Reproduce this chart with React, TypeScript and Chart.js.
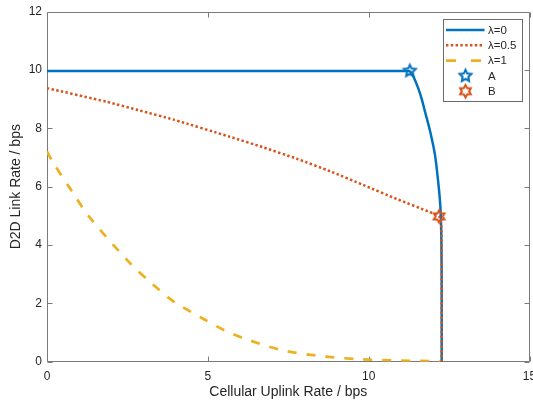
import React, { useEffect, useRef } from 'react';
import { Chart, registerables } from 'chart.js';

Chart.register(...registerables);

// ---- data ----
const lambda0X = [0, 3, 6, 9, 11.28, 11.39, 11.54, 11.65, 11.75, 11.91, 12.06, 12.16, 12.23, 12.26, 12.27, 12.27];
const lambda0Y = [9.97, 9.97, 9.97, 9.97, 9.97, 9.78, 9.38, 9.0, 8.58, 7.9, 7.1, 6.18, 5.3, 4.2, 2.5, 0];
const lambda0CornerIndex = 4; // point A sits on the corner of the λ=0 curve

const lambda05X = [0, 1.86, 2.89, 3.93, 5.69, 6.72, 7.76, 8.8, 9.83, 10.87, 11.9, 12.19, 12.26, 12.27];
const lambda05Y = [9.38, 8.91, 8.61, 8.3, 7.71, 7.35, 6.96, 6.53, 6.06, 5.58, 5.13, 4.98, 4.6, 0];

const lambda1X = [0, 0.2, 0.77, 1.34, 2.58, 3.25, 3.93, 4.91, 5.53, 6.1, 7.24, 8.38, 9.62, 11.0, 12.0, 12.22];
const lambda1Y = [7.21, 6.81, 5.85, 4.93, 3.38, 2.69, 2.07, 1.44, 1.07, 0.81, 0.41, 0.21, 0.09, 0.04, 0.02, 0.01];

const pointAX = [11.28];
const pointAY = [9.97];
const pointBX = [12.19];
const pointBY = [4.98];

const seriesLabels = ['\u03bb=0', '\u03bb=0.5', '\u03bb=1', 'A', 'B'];
const xTicks = [0, 5, 10, 15];
const yTicks = [0, 2, 4, 6, 8, 10, 12];

const xTitle = 'Cellular Uplink Rate / bps';
const yTitle = 'D2D Link Rate / bps';

// ---- styles ----
const BLUE = '#0072BD';
const ORANGE = '#D95319';
const YELLOW = '#EDB120';
const AXIS = '#7a7a7a';
const TEXT = '#262626';
const FONT = '"Liberation Sans", Arial, Helvetica, sans-serif';

function toPoints(xs: number[], ys: number[]) {
  return xs.map((x, i) => ({ x, y: ys[i] }));
}

function makeStar(n: number, R: number, r: number, color: string, lw: number): HTMLCanvasElement {
  const size = Math.ceil(2 * R + lw * 2 + 4);
  const c = document.createElement('canvas');
  c.width = size;
  c.height = size;
  const ctx = c.getContext('2d')!;
  ctx.strokeStyle = color;
  ctx.lineWidth = lw;
  ctx.lineJoin = 'miter';
  ctx.beginPath();
  for (let i = 0; i < n * 2; i++) {
    const rad = i % 2 === 0 ? R : r;
    const ang = -Math.PI / 2 + (i * Math.PI) / n;
    const px = size / 2 + rad * Math.cos(ang);
    const py = size / 2 + rad * Math.sin(ang);
    if (i === 0) ctx.moveTo(px, py);
    else ctx.lineTo(px, py);
  }
  ctx.closePath();
  ctx.stroke();
  return c;
}

export default function App() {
  const ref = useRef<HTMLCanvasElement | null>(null);

  useEffect(() => {
    if (!ref.current) return;
    const starA = makeStar(5, 6.2, 3.0, BLUE, 2);
    const hexB = makeStar(6, 6.2, 3.6, ORANGE, 2);

    const axesBox = {
      id: 'axesBox',
      beforeDatasetsDraw(chart: any) {
        const { ctx, chartArea: a, scales } = chart;
        ctx.save();
        ctx.strokeStyle = AXIS;
        ctx.lineWidth = 1;
        const L = Math.round(a.left) + 0.5;
        const R = Math.round(a.right) - 0.5;
        const T = Math.round(a.top) + 0.5;
        const B = Math.round(a.bottom) - 0.5;
        ctx.beginPath();
        ctx.rect(L, T, R - L, B - T);
        ctx.stroke();
        const tl = 5;
        ctx.beginPath();
        xTicks.forEach((v) => {
          const px = Math.round(scales.x.getPixelForValue(v)) + 0.5;
          ctx.moveTo(px, B);
          ctx.lineTo(px, B - tl);
          ctx.moveTo(px, T);
          ctx.lineTo(px, T + tl);
        });
        yTicks.forEach((v) => {
          const py = Math.round(scales.y.getPixelForValue(v)) + 0.5;
          ctx.moveTo(L, py);
          ctx.lineTo(L + tl, py);
          ctx.moveTo(R, py);
          ctx.lineTo(R - tl, py);
        });
        ctx.stroke();
        ctx.restore();
      },
    };

    const legend = {
      id: 'matlabLegend',
      afterDraw(chart: any) {
        const { ctx, chartArea: a } = chart;
        const boxRight = Math.round(a.right - 7.5) + 0.5;
        const boxLeft = boxRight - 79;
        const boxTop = Math.round(a.top + 7.3) + 0.5;
        const boxBottom = boxTop + 82;
        ctx.save();
        ctx.fillStyle = '#ffffff';
        ctx.fillRect(boxLeft, boxTop, boxRight - boxLeft, boxBottom - boxTop);
        ctx.strokeStyle = '#6a6a6a';
        ctx.lineWidth = 1;
        ctx.strokeRect(boxLeft, boxTop, boxRight - boxLeft, boxBottom - boxTop);
        const x1 = boxLeft + 2.5;
        const x2 = boxLeft + 41;
        const mx = boxLeft + 22;
        const tx = boxLeft + 44.5;
        const rowY = (i: number) => boxTop + 10.5 + i * 15.3;
        const lines = [
          { color: BLUE, dash: [] as number[], w: 2.5 },
          { color: ORANGE, dash: [2.4, 2.4], w: 2.5 },
          { color: YELLOW, dash: [10, 15], w: 2.7 },
        ];
        lines.forEach((l, i) => {
          const y = rowY(i);
          ctx.beginPath();
          ctx.strokeStyle = l.color;
          ctx.lineWidth = l.w;
          ctx.setLineDash(l.dash);
          ctx.lineCap = 'butt';
          ctx.moveTo(x1, y);
          ctx.lineTo(x2, y);
          ctx.stroke();
        });
        ctx.setLineDash([]);
        const imgs = [starA, hexB];
        imgs.forEach((img, k) => {
          const y = rowY(3 + k);
          ctx.drawImage(img, mx - img.width / 2, y - img.height / 2);
        });
        ctx.fillStyle = TEXT;
        ctx.font = `11.5px ${FONT}`;
        ctx.textBaseline = 'middle';
        ctx.textAlign = 'left';
        seriesLabels.forEach((t, i) => {
          ctx.fillText(t, tx, rowY(i) + 0.5);
        });
        ctx.restore();
      },
    };

    const allBlue = toPoints(lambda0X, lambda0Y);

    const chart = new Chart(ref.current, {
      type: 'line',
      data: {
        datasets: [
          {
            label: seriesLabels[0],
            data: allBlue.slice(0, lambda0CornerIndex + 1),
            borderColor: BLUE,
            borderWidth: 2.5,
            pointRadius: 0,
            tension: 0,
            fill: false,
            order: 6,
          },
          {
            label: seriesLabels[0] + ' (curve)',
            data: allBlue.slice(lambda0CornerIndex),
            borderColor: BLUE,
            borderWidth: 2.5,
            pointRadius: 0,
            tension: 0.3,
            fill: false,
            order: 5,
          },
          {
            label: seriesLabels[1],
            data: toPoints(lambda05X, lambda05Y),
            borderColor: ORANGE,
            borderWidth: 2.5,
            borderDash: [2.4, 2.4],
            pointRadius: 0,
            tension: 0.2,
            fill: false,
            order: 4,
          },
          {
            label: seriesLabels[2],
            data: toPoints(lambda1X, lambda1Y),
            borderColor: YELLOW,
            borderWidth: 2.7,
            borderDash: [9, 10],
            pointRadius: 0,
            tension: 0.3,
            fill: false,
            order: 3,
          },
          {
            label: seriesLabels[3],
            data: toPoints(pointAX, pointAY),
            showLine: false,
            pointStyle: starA as any,
            pointRadius: 7,
            borderColor: BLUE,
            order: 2,
            clip: false as any,
          },
          {
            label: seriesLabels[4],
            data: toPoints(pointBX, pointBY),
            showLine: false,
            pointStyle: hexB as any,
            pointRadius: 7,
            borderColor: ORANGE,
            order: 1,
            clip: false as any,
          },
        ],
      },
      options: {
        animation: false,
        responsive: false,
        devicePixelRatio: 1,
        layout: { autoPadding: false, padding: { top: 11.7, right: 3.5, left: 0, bottom: 0 } },
        plugins: {
          legend: { display: false },
          tooltip: { enabled: false },
        },
        scales: {
          x: {
            type: 'linear',
            min: 0,
            max: 15,
            grid: { display: false, drawTicks: false },
            border: { display: false },
            afterBuildTicks: (s: any) => {
              s.ticks = xTicks.map((v) => ({ value: v }));
            },
            ticks: {
              font: { size: 12, family: FONT },
              color: TEXT,
              padding: 8,
              maxRotation: 0,
            },
            title: {
              display: true,
              text: xTitle,
              font: { size: 14, family: FONT },
              color: TEXT,
              padding: { top: 0, bottom: 1 },
            },
            afterFit: (s: any) => {
              s.height = 40.3;
              s.paddingLeft = 0;
              s.paddingRight = 0;
            },
          },
          y: {
            type: 'linear',
            min: 0,
            max: 12,
            grid: { display: false, drawTicks: false },
            border: { display: false },
            afterBuildTicks: (s: any) => {
              s.ticks = yTicks.map((v) => ({ value: v }));
            },
            ticks: {
              font: { size: 12, family: FONT },
              color: TEXT,
              padding: 5,
            },
            title: {
              display: true,
              text: yTitle,
              font: { size: 14, family: FONT },
              color: TEXT,
              padding: { top: 7.5, bottom: 0 },
            },
            afterFit: (s: any) => {
              s.width = 47;
              s.paddingTop = 0;
              s.paddingBottom = 0;
            },
          },
        },
      },
      plugins: [axesBox, legend],
    });

    return () => chart.destroy();
  }, []);

  return (
    <div style={{ position: 'fixed', left: 0, top: 0, width: 533, height: 402, background: '#ffffff' }}>
      <canvas ref={ref} width={533} height={402} style={{ display: 'block' }} />
    </div>
  );
}
